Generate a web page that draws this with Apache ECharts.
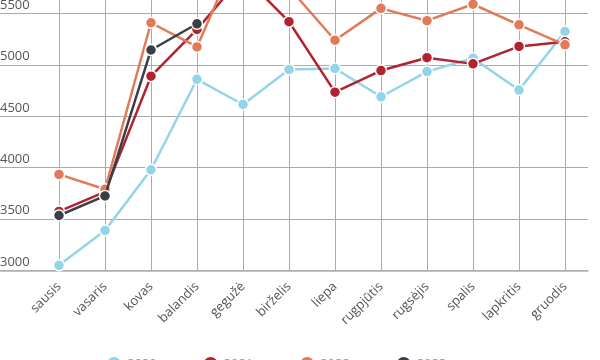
<!DOCTYPE html>
<html>
<head>
<meta charset="utf-8">
<script src="https://cdn.jsdelivr.net/npm/echarts@6/dist/echarts.min.js"></script>
<style>html,body{margin:0;padding:0;background:#fff;overflow:hidden;width:600px;height:360px;}
#c{position:absolute;left:0;top:-90px;width:600px;height:470px;}</style>
</head>
<body>
<div id="c"></div>
<script>
var months = ['sausis','vasaris','kovas','balandis','gegužė','birželis','liepa','rugpjūtis','rugsėjis','spalis','lapkritis','gruodis'];
var seriesNames = ['2020 m.','2021 m.','2022 m.','2023 m.'];
var s2020 = [3050, 3390, 3980, 4860, 4615, 4955, 4965, 4690, 4935, 5065, 4755, 5325];
var s2021 = [3575, 3765, 4890, 5345, 5870, 5420, 4735, 4945, 5070, 5010, 5180, 5225];
var s2022 = [3935, 3790, 5410, 5175, 6200, 5750, 5240, 5550, 5430, 5590, 5390, 5195];
var s2023 = [3535, 3725, 5145, 5400];
var yTicks = {min: 3000, max: 6500, interval: 500};
var colors = ['#92d4e8', '#b1232f', '#e07a58', '#3b3f44'];

var chart = echarts.init(document.getElementById('c'), null, {renderer: 'canvas'});
var FONT = '"Open Sans", sans-serif';
function mk(name, data, color, z) {
  return {
    name: name, type: 'line', data: data, xAxisIndex: 1, yAxisIndex: 1,
    symbol: 'circle', symbolSize: 11, z: z,
    lineStyle: {width: 2.5, color: color},
    itemStyle: {color: color, borderColor: '#fff', borderWidth: 1.5},
    emphasis: {disabled: true}, animation: false
  };
}
chart.setOption({
  animation: false,
  textStyle: {fontFamily: FONT},
  grid: [
    {left: 0, right: 12, top: 0.7, bottom: 109.5, outerBoundsMode: 'none', containLabel: false},
    {left: 59, right: 35, top: 0.7, bottom: 109.5, outerBoundsMode: 'none', containLabel: false}
  ],
  legend: {
    left: 100, bottom: 2, itemWidth: 16, itemHeight: 16, itemGap: 26,
    icon: 'circle', data: seriesNames,
    textStyle: {color: '#999', fontSize: 13, fontFamily: FONT}
  },
  xAxis: [
    {gridIndex: 0, type: 'value', min: 0, max: 1,
     axisLine: {show: true, onZero: false, lineStyle: {color: '#b0b0b0', width: 1.5}},
     axisTick: {show: false}, axisLabel: {show: false}, splitLine: {show: false}},
    {gridIndex: 1, type: 'category', data: months, boundaryGap: false,
     axisLine: {show: false}, axisTick: {show: false},
     axisLabel: {rotate: 45, color: '#555', fontSize: 13, fontFamily: FONT, margin: 14},
     splitLine: {show: true, lineStyle: {color: '#aaa', width: 1}}}
  ],
  yAxis: [
    {gridIndex: 0, type: 'value', min: yTicks.min, max: yTicks.max, interval: yTicks.interval,
     axisLine: {show: false}, axisTick: {show: false},
     axisLabel: {inside: true, margin: 0, align: 'left', verticalAlign: 'bottom', padding: [0,0,2,0],
                 color: '#555', fontSize: 13, fontFamily: FONT, formatter: function (v) { return String(v); }},
     splitLine: {show: true, lineStyle: {color: '#aaa', width: 1}}},
    {gridIndex: 1, type: 'value', min: yTicks.min, max: yTicks.max, interval: yTicks.interval,
     show: false, splitLine: {show: false}}
  ],
  series: [
    mk(seriesNames[0], s2020, colors[0], 2),
    mk(seriesNames[1], s2021, colors[1], 3),
    mk(seriesNames[2], s2022, colors[2], 4),
    mk(seriesNames[3], s2023, colors[3], 5)
  ]
});
</script>
</body>
</html>
